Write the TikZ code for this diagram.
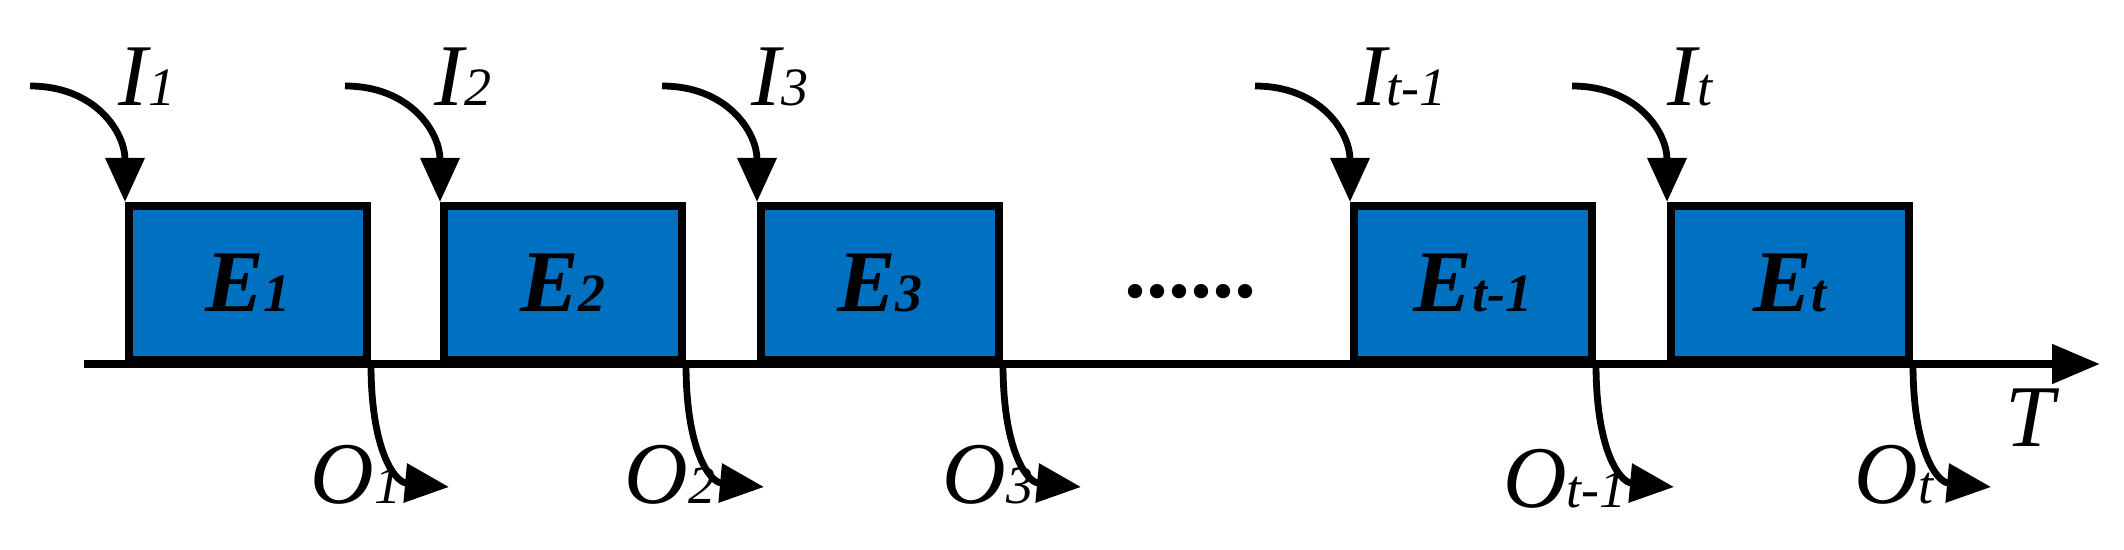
\documentclass[tikz,border=0pt]{standalone}
\usepackage{fontspec}
\setmainfont{Liberation Serif}
\usetikzlibrary{arrows.meta,calc}
\newcommand{\lab}[2]{{\fontsize{44}{46}\selectfont\itshape #1{\fontsize{27}{27}\selectfont #2}}}
\newcommand{\blab}[2]{{\fontsize{44}{46}\selectfont\bfseries\itshape #1{\fontsize{27}{27}\selectfont #2}}}
\definecolor{boxblue}{HTML}{0070C0}
\tikzset{
  ebox/.style={draw=black, fill=boxblue, line width=4pt, minimum width=119pt, minimum height=77pt, inner sep=0pt},
  flow/.style={line width=3.4pt, -{Triangle[length=22pt,width=19pt]}},
}
\begin{document}
\begin{tikzpicture}[x=0.5pt,y=-0.5pt]
\useasboundingbox (0,0) rectangle (2124,550);
% axis
\coordinate (a0) at (84,364);
\coordinate (a1) at (2100,364);
\draw[line width=4pt,-{Triangle[length=24pt,width=19pt]}] (a0) -- (a1);
\node (T) at (2030,418) {\lab{T}{}};
% boxes
\foreach \n/\x/\s in {1/125/1,2/440/2,3/757/3,4/1350/t-1,5/1667/t}{
  \node[ebox, anchor=south west] (b\n) at (\x,364) {\blab{E}{\s}};
  \coordinate (in\n) at ($(\x,86)+(-95,0)$);
}
\foreach \n in {1,...,5}{
  \draw[flow] (in\n) .. controls +(65,0) and +(0,-70) .. (b\n.north west);
  \coordinate (out\n) at ($(b\n.south east)+(78,123)$);
  \draw[flow] (b\n.south east) .. controls +(0,85) and +(-55,-5) .. (out\n);
}
\node (I1) at (147,77) {\lab{I}{1}};
\node (I2) at (463,77) {\lab{I}{2}};
\node (I3) at (780,77) {\lab{I}{3}};
\node (I4) at (1402,77) {\lab{I}{t-1}};
\node (I5) at (1690,77) {\lab{I}{t}};
\node (O1) at (356,475) {\lab{O}{1}};
\node (O2) at (670,475) {\lab{O}{2}};
\node (O3) at (988,475) {\lab{O}{3}};
\node (O4) at (1565,479) {\lab{O}{t-1}};
\node (O5) at (1894,475) {\lab{O}{t}};
\node (dots) at (1190,292) {\fontsize{44}{46}\selectfont\bfseries ......};
\end{tikzpicture}
\end{document}
